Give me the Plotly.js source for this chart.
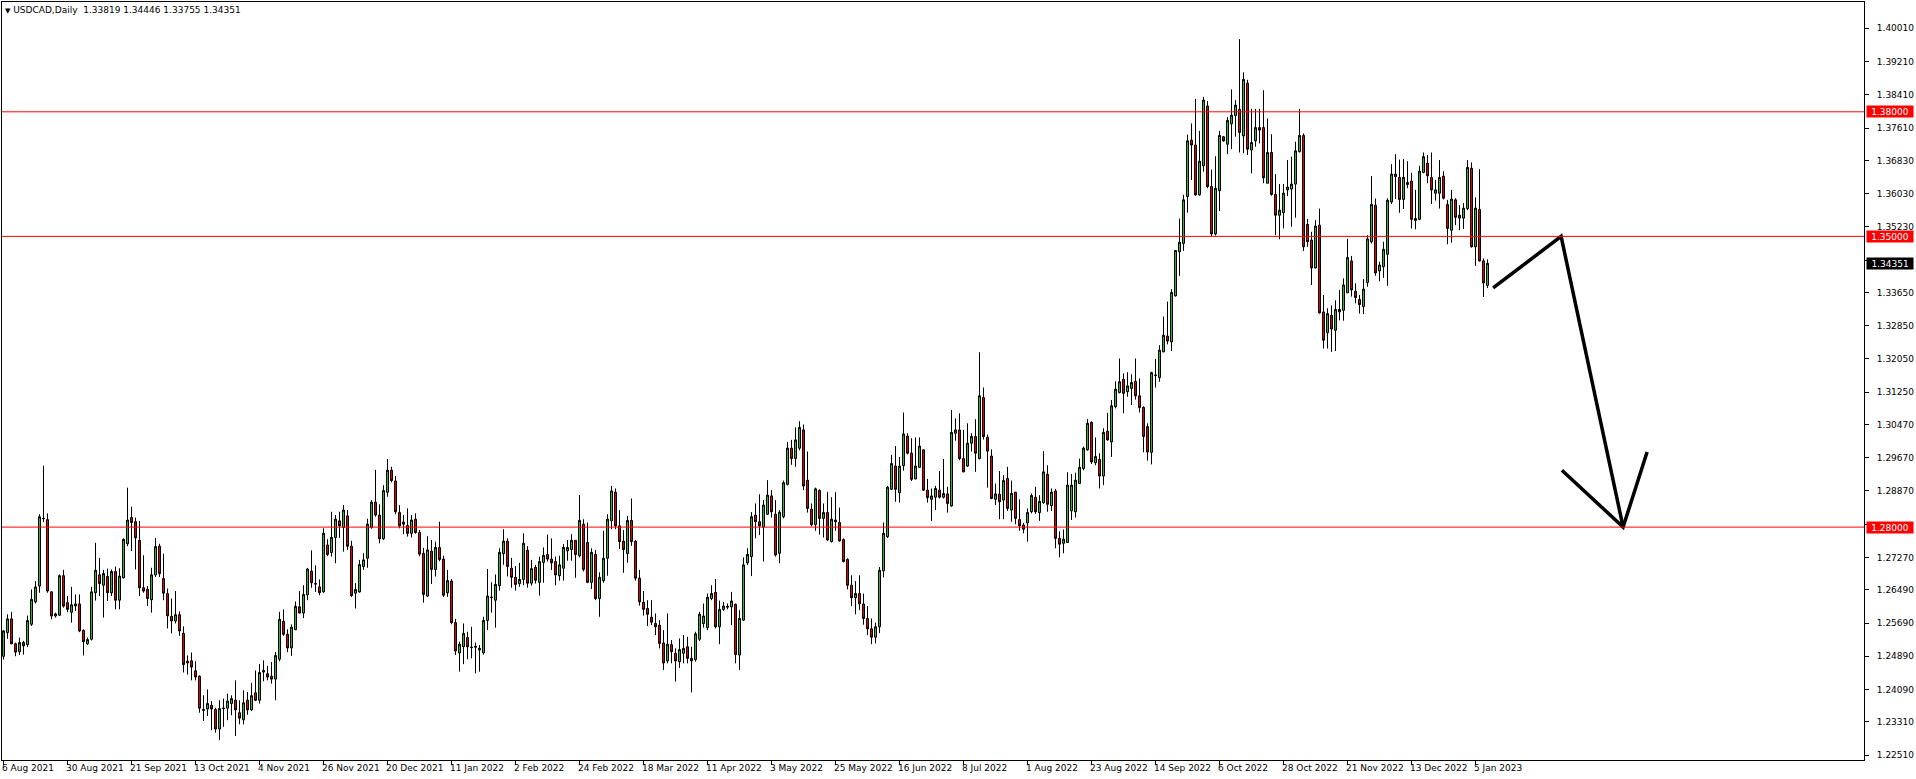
<!DOCTYPE html>
<html>
<head>
<meta charset="utf-8">
<script src="https://cdn.plot.ly/plotly-3.0.1.min.js"></script>
<style>
html,body{margin:0;padding:0;background:#ffffff;}
#chart{width:1916px;height:779px;}
</style>
</head>
<body>
<div id="chart"></div>
<script>
// ---- data (USDCAD daily) ----
const tickLabels = ["6 Aug 2021","30 Aug 2021","21 Sep 2021","13 Oct 2021","4 Nov 2021","26 Nov 2021","20 Dec 2021","11 Jan 2022","2 Feb 2022","24 Feb 2022","18 Mar 2022","11 Apr 2022","3 May 2022","25 May 2022","16 Jun 2022","8 Jul 2022","1 Aug 2022","23 Aug 2022","14 Sep 2022","6 Oct 2022","28 Oct 2022","21 Nov 2022","13 Dec 2022","5 Jan 2023"];
const barsPerLabel = 16;

const openP = [
1.2489,1.2546,1.2579,1.2519,1.2500,1.2522,1.2517,1.2566,1.2620,1.2658,
1.2820,1.2818,1.2644,1.2586,1.2588,1.2683,1.2618,1.2595,1.2610,1.2615,
1.2551,1.2519,1.2530,1.2642,1.2685,1.2660,1.2681,1.2642,1.2693,1.2624,
1.2678,1.2760,1.2823,1.2813,1.2768,1.2654,1.2650,1.2625,1.2685,1.2754,
1.2676,1.2640,1.2585,1.2574,1.2589,1.2544,1.2477,1.2478,1.2454,1.2441,
1.2361,1.2362,1.2371,1.2361,1.2314,1.2363,1.2364,1.2375,1.2383,1.2353,
1.2336,1.2383,1.2360,1.2401,1.2383,1.2455,1.2447,1.2441,1.2434,1.2482,
1.2573,1.2542,1.2509,1.2553,1.2608,1.2593,1.2637,1.2694,1.2664,1.2656,
1.2644,1.2757,1.2739,1.2775,1.2815,1.2799,1.2827,1.2754,1.2641,1.2644,
1.2705,1.2725,1.2799,1.2860,1.2829,1.2772,1.2884,1.2937,1.2911,1.2835,
1.2812,1.2804,1.2785,1.2819,1.2787,1.2737,1.2634,1.2742,1.2698,1.2751,
1.2723,1.2642,1.2670,1.2570,1.2497,1.2512,1.2534,1.2511,1.2513,1.2508,
1.2497,1.2575,1.2630,1.2624,1.2659,1.2736,1.2766,1.2701,1.2679,1.2664,
1.2674,1.2744,1.2665,1.2703,1.2667,1.2715,1.2734,1.2723,1.2717,1.2683,
1.2701,1.2743,1.2746,1.2768,1.2731,1.2807,1.2763,1.2667,1.2734,1.2628,
1.2671,1.2725,1.2815,1.2884,1.2803,1.2766,1.2736,1.2816,1.2766,1.2677,
1.2619,1.2604,1.2583,1.2568,1.2564,1.2521,1.2478,1.2517,1.2496,1.2476,
1.2496,1.2512,1.2484,1.2481,1.2530,1.2568,1.2558,1.2628,1.2643,1.2560,
1.2602,1.2607,1.2608,1.2614,1.2492,1.2576,1.2714,1.2729,1.2829,1.2813,
1.2800,1.2831,1.2875,1.2831,1.2737,1.2825,1.2903,1.2990,1.2965,1.2990,
1.3034,1.2913,1.2843,1.2806,1.2888,1.2821,1.2835,1.2765,1.2817,1.2811,
1.2770,1.2722,1.2660,1.2630,1.2640,1.2615,1.2580,1.2555,1.2535,1.2560,
1.2695,1.2777,1.2891,1.2947,1.2883,1.2948,1.3019,1.2978,1.2916,1.2944,
1.2986,1.2889,1.2867,1.2872,1.2889,1.2872,1.2880,1.2851,1.3026,1.3034,
1.2965,1.2947,1.3002,1.3018,1.2965,1.3112,1.3016,1.2971,1.2867,1.2879,
1.2865,1.2917,1.2841,1.2884,1.2818,1.2805,1.2810,1.2837,1.2872,1.2835,
1.2859,1.2927,1.2852,1.2887,1.2773,1.2761,1.2763,1.2839,1.2837,1.2905,
1.2941,1.2986,1.3052,1.2955,1.2963,1.2923,1.3031,1.3005,1.3090,1.3124,
1.3156,1.3126,1.3134,1.3151,1.3116,1.3088,1.3042,1.2980,1.3165,1.3160,
1.3222,1.3260,1.3246,1.3357,1.3463,1.3483,1.3596,1.3732,1.3720,1.3600,
1.3670,1.3814,1.3620,1.3506,1.3610,1.3740,1.3722,1.3771,1.3791,1.3806,
1.3742,1.3869,1.3708,1.3730,1.3762,1.3762,1.3628,1.3702,1.3601,1.3551,
1.3557,1.3612,1.3614,1.3626,1.3704,1.3743,1.3529,1.3491,1.3424,1.3527,
1.3318,1.3268,1.3310,1.3274,1.3318,1.3322,1.3364,1.3441,1.3368,1.3348,
1.3331,1.3389,1.3487,1.3575,1.3417,1.3427,1.3457,1.3583,1.3644,1.3642,
1.3589,1.3625,1.3633,1.3538,1.3541,1.3654,1.3676,1.3642,1.3604,1.3604,
1.3645,1.3577,1.3515,1.3588,1.3551,1.3544,1.3567,1.3664,1.3475,1.3565,
1.3441,1.33819];

const highP = [
1.2552,1.2590,1.2596,1.2522,1.2534,1.2526,1.2587,1.2650,1.2670,1.2831,
1.2948,1.2833,1.2646,1.2594,1.2686,1.2697,1.2634,1.2656,1.2638,1.2638,
1.2554,1.2534,1.2656,1.2762,1.2726,1.2697,1.2700,1.2698,1.2705,1.2701,
1.2773,1.2895,1.2849,1.2823,1.2815,1.2732,1.2658,1.2702,1.2774,1.2760,
1.2736,1.2652,1.2628,1.2646,1.2597,1.2561,1.2491,1.2498,1.2477,1.2443,
1.2395,1.2409,1.2381,1.2365,1.2383,1.2387,1.2399,1.2395,1.2431,1.2383,
1.2407,1.2403,1.2425,1.2455,1.2470,1.2479,1.2466,1.2475,1.2499,1.2596,
1.2602,1.2554,1.2566,1.2621,1.2646,1.2660,1.2702,1.2744,1.2708,1.2674,
1.2797,1.2771,1.2837,1.2829,1.2837,1.2853,1.2841,1.2767,1.2665,1.2721,
1.2737,1.2820,1.2865,1.2938,1.2855,1.2901,1.2964,1.2945,1.2923,1.2853,
1.2829,1.2845,1.2829,1.2833,1.2793,1.2750,1.2778,1.2769,1.2765,1.2813,
1.2731,1.2697,1.2675,1.2579,1.2524,1.2568,1.2548,1.2560,1.2522,1.2516,
1.2584,1.2699,1.2667,1.2686,1.2749,1.2795,1.2773,1.2726,1.2706,1.2714,
1.2785,1.2754,1.2721,1.2709,1.2729,1.2751,1.2782,1.2773,1.2729,1.2731,
1.2759,1.2769,1.2783,1.2769,1.2877,1.2819,1.2811,1.2749,1.2745,1.2691,
1.2791,1.2831,1.2899,1.2893,1.2841,1.2793,1.2827,1.2869,1.2769,1.2697,
1.2646,1.2624,1.2624,1.2592,1.2576,1.2552,1.2592,1.2528,1.2508,1.2532,
1.2540,1.2536,1.2512,1.2548,1.2596,1.2616,1.2640,1.2660,1.2675,1.2623,
1.2620,1.2616,1.2644,1.2616,1.2600,1.2727,1.2749,1.2836,1.2857,1.2879,
1.2865,1.2913,1.2889,1.2865,1.2841,1.2912,1.3005,1.3010,1.3040,1.3055,
1.3047,1.2982,1.2857,1.2895,1.2891,1.2857,1.2885,1.2872,1.2884,1.2847,
1.2773,1.2725,1.2684,1.2670,1.2684,1.2640,1.2610,1.2580,1.2570,1.2704,
1.2811,1.2899,1.2974,1.2995,1.2969,1.3076,1.3026,1.3014,1.3016,1.3016,
1.2987,1.2916,1.2893,1.2899,1.2935,1.2964,1.2897,1.3082,1.3062,1.3074,
1.3034,1.3050,1.3026,1.3060,1.3221,1.3136,1.3023,1.2987,1.2905,1.2935,
1.2925,1.2945,1.2912,1.2885,1.2867,1.2810,1.2845,1.2881,1.2897,1.2877,
1.2983,1.2949,1.2893,1.2892,1.2790,1.2794,1.2932,1.2928,1.2931,1.2965,
1.2994,1.3060,1.3055,1.3016,1.2978,1.3038,1.3075,1.3106,1.3151,1.3206,
1.3170,1.3173,1.3168,1.3206,1.3158,1.3091,1.3050,1.3174,1.3205,1.3238,
1.3307,1.3343,1.3373,1.3467,1.3543,1.3600,1.3745,1.3772,1.3831,1.3754,
1.3836,1.3826,1.3661,1.3693,1.3754,1.3742,1.3787,1.3854,1.3828,1.3975,
1.3895,1.3877,1.3807,1.3807,1.3807,1.3852,1.3784,1.3746,1.3650,1.3626,
1.3626,1.3684,1.3692,1.3728,1.3807,1.3748,1.3542,1.3511,1.3539,1.3567,
1.3359,1.3327,1.3334,1.3346,1.3371,1.3399,1.3494,1.3453,1.3387,1.3359,
1.3397,1.3503,1.3645,1.3591,1.3439,1.3487,1.3592,1.3674,1.3698,1.3685,
1.3686,1.3681,1.3653,1.3612,1.3670,1.3702,1.3696,1.3702,1.3636,1.3684,
1.3657,1.3588,1.3612,1.3592,1.3575,1.3580,1.3684,1.3678,1.3594,1.3662,
1.3447,1.34446];

const lowP = [
1.2481,1.2531,1.2518,1.2489,1.2492,1.2493,1.2511,1.2562,1.2616,1.2642,
1.2812,1.2642,1.2578,1.2582,1.2586,1.2606,1.2595,1.2570,1.2598,1.2547,
1.2491,1.2516,1.2527,1.2623,1.2634,1.2582,1.2622,1.2634,1.2602,1.2602,
1.2676,1.2754,1.2742,1.2698,1.2634,1.2642,1.2610,1.2594,1.2680,1.2680,
1.2624,1.2556,1.2544,1.2568,1.2538,1.2450,1.2445,1.2431,1.2431,1.2353,
1.2333,1.2345,1.2311,1.2305,1.2287,1.2319,1.2335,1.2347,1.2297,1.2325,
1.2325,1.2348,1.2357,1.2381,1.2375,1.2429,1.2431,1.2423,1.2383,1.2477,
1.2538,1.2499,1.2490,1.2552,1.2592,1.2581,1.2624,1.2654,1.2644,1.2636,
1.2642,1.2730,1.2729,1.2713,1.2774,1.2741,1.2745,1.2632,1.2604,1.2642,
1.2697,1.2702,1.2796,1.2825,1.2761,1.2769,1.2873,1.2908,1.2831,1.2797,
1.2783,1.2777,1.2775,1.2784,1.2730,1.2618,1.2632,1.2663,1.2681,1.2718,
1.2632,1.2632,1.2566,1.2492,1.2452,1.2470,1.2482,1.2484,1.2448,1.2452,
1.2493,1.2552,1.2594,1.2558,1.2647,1.2709,1.2681,1.2654,1.2647,1.2656,
1.2660,1.2654,1.2659,1.2664,1.2635,1.2666,1.2717,1.2697,1.2660,1.2671,
1.2671,1.2719,1.2719,1.2678,1.2727,1.2693,1.2665,1.2651,1.2624,1.2584,
1.2666,1.2683,1.2795,1.2795,1.2747,1.2690,1.2714,1.2755,1.2671,1.2611,
1.2587,1.2562,1.2564,1.2540,1.2508,1.2456,1.2472,1.2472,1.2428,1.2461,
1.2472,1.2472,1.2402,1.2476,1.2526,1.2558,1.2552,1.2624,1.2556,1.2518,
1.2598,1.2602,1.2564,1.2472,1.2456,1.2574,1.2709,1.2682,1.2773,1.2781,
1.2717,1.2829,1.2823,1.2729,1.2713,1.2821,1.2900,1.2950,1.2945,1.2985,
1.2889,1.2835,1.2802,1.2791,1.2782,1.2775,1.2767,1.2763,1.2791,1.2765,
1.2715,1.2650,1.2610,1.2590,1.2600,1.2565,1.2540,1.2518,1.2520,1.2545,
1.2679,1.2774,1.2889,1.2861,1.2859,1.2936,1.2975,1.2911,1.2915,1.2943,
1.2887,1.2859,1.2815,1.2841,1.2869,1.2869,1.2835,1.2849,1.3008,1.2961,
1.2932,1.2945,1.2982,1.2933,1.2963,1.3011,1.2895,1.2867,1.2853,1.2819,
1.2819,1.2839,1.2813,1.2807,1.2791,1.2785,1.2765,1.2833,1.2832,1.2815,
1.2856,1.2837,1.2839,1.2749,1.2727,1.2737,1.2762,1.2817,1.2823,1.2904,
1.2937,1.2984,1.2952,1.2949,1.2893,1.2901,1.3008,1.2969,1.3086,1.3122,
1.3074,1.3114,1.3094,1.3107,1.3076,1.2980,1.2960,1.2951,1.3136,1.3150,
1.3221,1.3240,1.3224,1.3355,1.3405,1.3465,1.3557,1.3636,1.3598,1.3598,
1.3656,1.3616,1.3499,1.3502,1.3561,1.3728,1.3698,1.3710,1.3740,1.3702,
1.3700,1.3696,1.3652,1.3716,1.3724,1.3628,1.3628,1.3598,1.3503,1.3493,
1.3519,1.3597,1.3523,1.3545,1.3702,1.3465,1.3475,1.3383,1.3423,1.3314,
1.3230,1.3230,1.3222,1.3224,1.3298,1.3297,1.3364,1.3355,1.3339,1.3314,
1.3313,1.3379,1.3483,1.3405,1.3392,1.3400,1.3381,1.3578,1.3590,1.3557,
1.3566,1.3616,1.3519,1.3517,1.3539,1.3652,1.3628,1.3578,1.3586,1.3567,
1.3589,1.3481,1.3485,1.3527,1.3515,1.3518,1.3563,1.3473,1.3429,1.3439,
1.3354,1.33755];

const closeP = [
1.2550,1.2579,1.2519,1.2499,1.2522,1.2514,1.2575,1.2626,1.2656,1.2825,
1.2821,1.2646,1.2586,1.2591,1.2683,1.2610,1.2602,1.2613,1.2615,1.2550,
1.2524,1.2529,1.2644,1.2696,1.2664,1.2688,1.2642,1.2693,1.2624,1.2682,
1.2770,1.2817,1.2811,1.2774,1.2654,1.2646,1.2628,1.2685,1.2753,1.2688,
1.2641,1.2586,1.2574,1.2589,1.2550,1.2469,1.2473,1.2463,1.2439,1.2364,
1.2359,1.2375,1.2362,1.2314,1.2363,1.2364,1.2381,1.2387,1.2360,1.2340,
1.2377,1.2360,1.2394,1.2383,1.2450,1.2451,1.2439,1.2434,1.2491,1.2578,
1.2542,1.2509,1.2559,1.2609,1.2593,1.2638,1.2699,1.2666,1.2663,1.2642,
1.2785,1.2734,1.2775,1.2819,1.2803,1.2841,1.2754,1.2635,1.2650,1.2710,
1.2721,1.2807,1.2860,1.2829,1.2772,1.2888,1.2937,1.2912,1.2837,1.2803,
1.2807,1.2785,1.2817,1.2787,1.2735,1.2638,1.2745,1.2698,1.2751,1.2722,
1.2636,1.2671,1.2570,1.2502,1.2518,1.2544,1.2512,1.2510,1.2511,1.2504,
1.2575,1.2634,1.2631,1.2662,1.2739,1.2766,1.2705,1.2679,1.2662,1.2674,
1.2761,1.2665,1.2700,1.2672,1.2717,1.2732,1.2723,1.2714,1.2685,1.2709,
1.2751,1.2751,1.2768,1.2734,1.2816,1.2698,1.2667,1.2739,1.2628,1.2679,
1.2725,1.2819,1.2887,1.2803,1.2765,1.2746,1.2816,1.2765,1.2677,1.2620,
1.2602,1.2590,1.2571,1.2560,1.2520,1.2473,1.2518,1.2500,1.2478,1.2505,
1.2508,1.2484,1.2478,1.2543,1.2590,1.2586,1.2631,1.2640,1.2560,1.2602,
1.2610,1.2609,1.2622,1.2493,1.2580,1.2709,1.2734,1.2825,1.2813,1.2803,
1.2853,1.2877,1.2837,1.2733,1.2836,1.2907,1.2990,1.2965,1.3010,1.3040,
1.2899,1.2845,1.2806,1.2892,1.2821,1.2835,1.2769,1.2819,1.2813,1.2767,
1.2717,1.2660,1.2630,1.2640,1.2615,1.2580,1.2555,1.2535,1.2560,1.2696,
1.2785,1.2896,1.2953,1.2891,1.2947,1.3024,1.2978,1.2915,1.2947,1.2995,
1.2889,1.2871,1.2875,1.2893,1.2872,1.2881,1.2857,1.3028,1.3034,1.2965,
1.2933,1.3002,1.3018,1.2978,1.3116,1.3018,1.2983,1.2869,1.2880,1.2861,
1.2912,1.2845,1.2881,1.2821,1.2803,1.2795,1.2835,1.2876,1.2837,1.2862,
1.2933,1.2855,1.2884,1.2773,1.2759,1.2771,1.2901,1.2901,1.2913,1.2944,
1.2990,1.3050,1.2957,1.2970,1.2923,1.3028,1.3010,1.3092,1.3132,1.3150,
1.3122,1.3140,1.3148,1.3116,1.3088,1.3018,1.2981,1.3172,1.3166,1.3226,
1.3262,1.3248,1.3365,1.3466,1.3486,1.3588,1.3730,1.3720,1.3600,1.3681,
1.3828,1.3620,1.3506,1.3616,1.3743,1.3730,1.3779,1.3792,1.3816,1.3750,
1.3878,1.3710,1.3726,1.3762,1.3756,1.3641,1.3702,1.3601,1.3551,1.3563,
1.3604,1.3619,1.3626,1.3706,1.3743,1.3475,1.3487,1.3424,1.3525,1.3316,
1.3250,1.3314,1.3277,1.3324,1.3324,1.3383,1.3449,1.3371,1.3353,1.3336,
1.3373,1.3494,1.3577,1.3412,1.3431,1.3469,1.3587,1.3650,1.3650,1.3589,
1.3642,1.3630,1.3541,1.3543,1.3657,1.3692,1.3646,1.3612,1.3612,1.3642,
1.3592,1.3519,1.3590,1.3546,1.3544,1.3568,1.3666,1.3475,1.3568,1.3441,
1.3388,1.34351];

// price scale ticks; the two that sit under the level / price tags are drawn as bare tick marks
const priceTicks = [1.40010,1.39210,1.38410,1.37610,1.36830,1.36030,1.35230,1.34430,1.33650,1.32850,1.32050,1.31250,1.30470,1.29670,1.28870,1.28070,1.27270,1.26490,1.25690,1.24890,1.24090,1.23310,1.22510];
const hiddenTicks = [1.34430, 1.28070];
const levelPrices = [1.38000, 1.35000, 1.28000];
const lastPrice = 1.34351;
const titleText = "USDCAD,Daily\u00a0\u00a01.33819 1.34446 1.33755 1.34351";
// hand-drawn forecast arrow: bar position / price
const arrowBar   = [372.4, 389.4, 404.9, null, 389.6, 404.9, 410.9];
const arrowPrice = [1.3376, 1.3500, 1.2800, null, 1.2937, 1.2800, 1.2981];

// ---- chart ----
const FONT = "DejaVu Sans, Verdana, sans-serif";
const xIdx = closeP.map((_, i) => i);
const tickIdx = tickLabels.map((_, i) => i * barsPerLabel);

const candles = {
  type: "candlestick",
  x: xIdx, open: openP, high: highP, low: lowP, close: closeP,
  increasing: {line: {color: "#000000", width: 1}, fillcolor: "#32b432"},
  decreasing: {line: {color: "#000000", width: 1}, fillcolor: "#e00000"},
  whiskerwidth: 0,
  hoverinfo: "skip",
  showlegend: false
};

const arrow = {
  type: "scatter", mode: "lines",
  x: arrowBar, y: arrowPrice,
  line: {color: "#000000", width: 3.5},
  connectgaps: false, hoverinfo: "skip", showlegend: false
};

const shapes = levelPrices.map(p => ({
  type: "line", xref: "paper", x0: 0, x1: 1, yref: "y", y0: p, y1: p,
  line: {color: "#ff0000", width: 1}, layer: "above"
}));

const annotations = [];
tickLabels.forEach((t, i) => {
  annotations.push({
    text: t, x: tickIdx[i], xref: "x", y: 0, yref: "paper",
    xanchor: "left", yanchor: "top", xshift: -4, yshift: -1,
    showarrow: false, font: {family: FONT, size: 9, color: "#000000"}
  });
});
levelPrices.forEach(p => {
  annotations.push({
    text: p.toFixed(5), x: 1, xref: "paper", xshift: 2, y: p, yref: "y",
    xanchor: "left", yanchor: "middle", showarrow: false,
    bgcolor: "#ff0000", borderpad: 0, width: 46, height: 11, align: "center",
    font: {family: FONT, size: 9, color: "#ffffff"}
  });
});
annotations.push({
  text: lastPrice.toFixed(5), x: 1, xref: "paper", xshift: 2, y: lastPrice, yref: "y",
  xanchor: "left", yanchor: "middle", showarrow: false,
  bgcolor: "#000000", borderpad: 0, width: 46, height: 11, align: "center",
  font: {family: FONT, size: 9, color: "#ffffff"}
});

const layout = {
  width: 1916, height: 779,
  margin: {l: 2, r: 52, t: 2, b: 19, pad: 0},
  paper_bgcolor: "#ffffff", plot_bgcolor: "#ffffff",
  showlegend: false,
  boxgap: 0.5, boxgroupgap: 0,
  title: {
    text: '<span style="font-size:7px">\u25BC</span> ' + titleText,
    font: {family: FONT, size: 9, color: "#000000"},
    xref: "container", x: 5 / 1916, xanchor: "left",
    yref: "container", y: 1 - 10 / 779, yanchor: "middle"
  },
  xaxis: {
    type: "linear", range: [-0.375, 465.125],
    showgrid: false, zeroline: false,
    showline: true, mirror: true, linecolor: "#000000", linewidth: 1,
    ticks: "outside", ticklen: 4, tickcolor: "#000000", tickwidth: 1,
    tickmode: "array", tickvals: tickIdx, showticklabels: false,
    rangeslider: {visible: false}, fixedrange: true
  },
  yaxis: {
    side: "right", range: [1.22392, 1.40644],
    showgrid: false, zeroline: false,
    showline: true, mirror: true, linecolor: "#000000", linewidth: 1,
    ticks: "outside", ticklen: 4, tickcolor: "#000000", tickwidth: 1,
    tickmode: "array", tickvals: priceTicks,
    ticktext: priceTicks.map(v => hiddenTicks.includes(v) ? "" : v.toFixed(5)),
    tickfont: {family: FONT, size: 9, color: "#000000"},
    ticklabelstandoff: 6, fixedrange: true
  },
  shapes: shapes,
  annotations: annotations
};

Plotly.newPlot("chart", [candles, arrow], layout, {displayModeBar: false, staticPlot: true});
</script>
</body>
</html>
